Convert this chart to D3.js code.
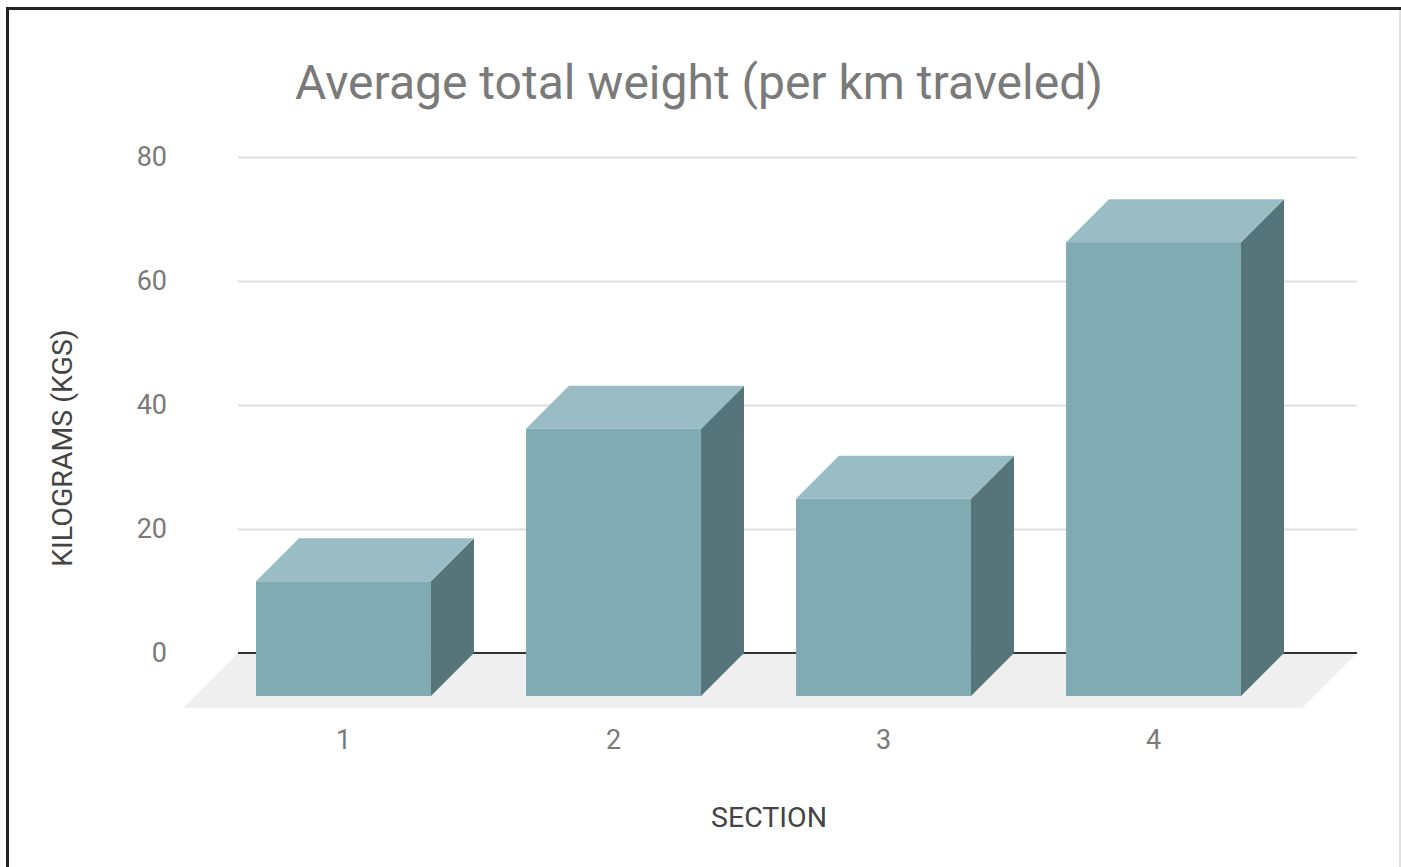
<!DOCTYPE html>
<html>
<head>
<meta charset="utf-8">
<script src="https://cdn.jsdelivr.net/npm/d3@7"></script>
<style>
  html, body { margin: 0; padding: 0; background: #ffffff; }
  svg { display: block; font-family: Roboto, "Noto Sans", sans-serif; }
</style>
</head>
<body>
<svg id="chart" width="1401" height="867"></svg>
<script>
// ---- data ----
const categories = ["1", "2", "3", "4"];
const values = [18.5, 43.1, 31.8, 73.2];
const yTicks = [0, 20, 40, 60, 80];
const title = "Average total weight (per km traveled)";
const xTitle = "SECTION";
const yTitle = "KILOGRAMS (KGS)";

// ---- layout ----
const W = 1401, H = 867;
const wallLeft = 238, wallRight = 1357;
const D = 43;        // bar depth offset (px, projected)
const floorD = 55;   // floor depth offset
const svg = d3.select("#chart");

// frame
svg.append("rect").attr("x", 0).attr("y", 0).attr("width", W).attr("height", H).attr("fill", "#fff");
svg.append("line").attr("x1", 1400).attr("x2", 1400).attr("y1", 8).attr("y2", H)
  .attr("stroke", "#d6d6d6").attr("stroke-width", 1.5);
svg.append("line").attr("x1", 6).attr("x2", W).attr("y1", 8.5).attr("y2", 8.5)
  .attr("stroke", "#222").attr("stroke-width", 3);
svg.append("line").attr("x1", 7.5).attr("x2", 7.5).attr("y1", 7).attr("y2", H)
  .attr("stroke", "#222").attr("stroke-width", 3);

// scales (back wall coordinates)
const y = d3.scaleLinear().domain([0, 80]).range([653, 157]);
const x = d3.scaleBand().domain(categories).range([245, 1338])
  .paddingInner(0.352).paddingOuter(0.2);

// title
svg.append("text")
  .attr("x", 699).attr("y", 99)
  .attr("text-anchor", "middle")
  .attr("fill", "#7a7a7a")
  .style("font-size", "48px")
  .text(title);

// y axis with gridlines
const yAxis = d3.axisLeft(y).tickValues(yTicks)
  .tickSize(-(wallRight - wallLeft)).tickPadding(71)
  .tickFormat(d3.format("d"));
const gy = svg.append("g").attr("transform", `translate(${wallLeft},0)`).call(yAxis);
gy.select(".domain").remove();
gy.selectAll(".tick line").attr("stroke", d => d === 0 ? "none" : "#e0e0e0").attr("stroke-width", 2);
gy.selectAll(".tick text").attr("fill", "#7a7a7a").style("font-size", "27px")
  .style("font-family", "Roboto, sans-serif");

// floor
const fy0 = y(0);
svg.append("path")
  .attr("d", `M${wallLeft},${fy0} L${wallRight},${fy0} L${wallRight - floorD},${fy0 + floorD} L${wallLeft - floorD},${fy0 + floorD} Z`)
  .attr("fill", "#efefef");

// baseline (zero line)
svg.append("line")
  .attr("x1", wallLeft).attr("x2", wallRight)
  .attr("y1", fy0).attr("y2", fy0)
  .attr("stroke", "#333").attr("stroke-width", 2);

// bars
const bw = x.bandwidth();
const bars = svg.append("g").selectAll("g").data(categories.map((c, i) => ({ c, v: values[i] })))
  .join("g");

// side face
bars.append("path")
  .attr("d", d => {
    const bx = x(d.c) + bw, ty = y(d.v), by = y(0);
    return `M${bx},${ty} L${bx},${by} L${bx - D},${by + D} L${bx - D},${ty + D} Z`;
  })
  .attr("fill", "#56757a");
// top face
bars.append("path")
  .attr("d", d => {
    const bx = x(d.c), ty = y(d.v);
    return `M${bx},${ty} L${bx + bw},${ty} L${bx + bw - D},${ty + D} L${bx - D},${ty + D} Z`;
  })
  .attr("fill", "#9abdc5");
// front face
bars.append("rect")
  .attr("x", d => x(d.c) - D)
  .attr("y", d => y(d.v) + D)
  .attr("width", bw)
  .attr("height", d => y(0) - y(d.v))
  .attr("fill", "#81abb3");

// x axis (category labels under front faces)
const xFront = x.copy().range(x.range().map(r => r - D));
const xAxis = d3.axisBottom(xFront).tickSize(0).tickPadding(22);
const gx = svg.append("g").attr("transform", `translate(0,${fy0 + floorD})`).call(xAxis);
gx.select(".domain").remove();
gx.selectAll(".tick text").attr("fill", "#7a7a7a").style("font-size", "27px")
  .style("font-family", "Roboto, sans-serif");

// axis titles
svg.append("text")
  .attr("x", 769).attr("y", 827)
  .attr("text-anchor", "middle")
  .attr("fill", "#444")
  .style("font-size", "28.5px")
  .text(xTitle);

svg.append("text")
  .attr("transform", "translate(72,448) rotate(-90)")
  .attr("text-anchor", "middle")
  .attr("fill", "#444")
  .style("font-size", "28.5px")
  .text(yTitle);
</script>
</body>
</html>
